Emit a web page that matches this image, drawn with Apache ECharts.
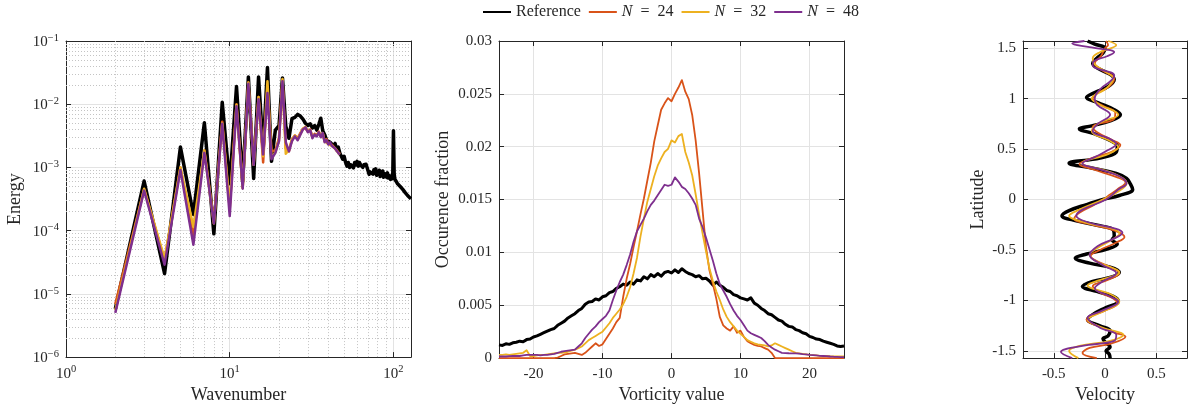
<!DOCTYPE html>
<html>
<head>
<meta charset="utf-8">
<script src="https://cdn.jsdelivr.net/npm/echarts@6/dist/echarts.min.js"></script>
<style>
  html, body { margin: 0; padding: 0; background: #fff; }
  #chart { width: 1188px; height: 409px; }
</style>
</head>
<body>
<div id="chart"></div>
<script>
// ---- energy spectrum (left) ----
const refEnergy = [
  5.8e-6, 6.1e-4, 2.1e-5, 2.1e-3, 1.8e-4, 5.1e-3, 8.9e-5, 1.07e-2, 5.5e-4, 1.9e-2,
  6.0e-4, 2.7e-2, 6.7e-4, 2.7e-2, 1.9e-3, 3.8e-2, 1.25e-3, 3.9e-3, 4.6e-3, 2.6e-2,
  4.5e-3, 2.9e-3, 5.9e-3, 6.2e-3, 6.9e-3, 6.5e-3, 5.8e-3, 5.0e-3, 4.6e-3, 4.9e-3,
  4.2e-3, 4.6e-3, 3.9e-3, 4.8e-3, 6.0e-3, 3.8e-3, 3.3e-3, 2.7e-3, 2.9e-3, 2.5e-3,
  2.6e-3, 2.2e-3, 2.4e-3, 1.9e-3, 2.1e-3, 1.7e-3, 1.8e-3, 1.35e-3, 1.5e-3, 1.2e-3,
  1.05e-3, 1.2e-3, 1.0e-3, 1.1e-3, 1.15e-3, 9.8e-4, 1.2e-3, 1.1e-3, 1.25e-3, 1.05e-3,
  1.2e-3, 1.1e-3, 1.15e-3, 1.0e-3, 1.1e-3, 1.05e-3, 1.12e-3, 1.0e-3, 9.5e-4, 7.8e-4,
  8.5e-4, 8.0e-4, 9.0e-4, 7.8e-4, 9.2e-4, 8.0e-4, 9.5e-4, 7.5e-4, 8.5e-4, 7.8e-4,
  9.0e-4, 7.2e-4, 8.2e-4, 7.5e-4, 8.8e-4, 7.0e-4, 8.0e-4, 7.2e-4, 7.8e-4, 7.0e-4,
  8.2e-4, 6.8e-4, 7.5e-4, 7.0e-4, 6.5e-4, 7.4e-4, 6.6e-4, 7.2e-4, 3.8e-3, 8.0e-4,
  6.5e-4, 6.8e-4, 6.0e-4, 6.3e-4, 5.5e-4, 5.8e-4, 5.2e-4, 5.6e-4, 5.0e-4, 5.3e-4,
  4.7e-4, 5.0e-4, 4.5e-4, 4.8e-4, 4.2e-4, 4.5e-4, 4.0e-4, 4.2e-4, 3.8e-4, 4.0e-4,
  3.6e-4, 3.7e-4, 3.4e-4, 3.5e-4, 3.3e-4, 3.4e-4, 3.2e-4
];
const n24Energy = [
  6.9e-6, 4.5e-4, 3.4e-5, 1.0e-3, 8.0e-5, 1.85e-3, 1.4e-4, 5.3e-3, 2.2e-4, 1.0e-2,
  4.8e-4, 2.2e-2, 1.15e-3, 1.3e-2, 1.2e-3, 1.9e-2, 1.8e-3, 1.85e-3, 2.9e-3, 2.4e-2,
  2.0e-3, 1.8e-3, 2.8e-3, 3.2e-3, 2.9e-3, 3.5e-3, 4.1e-3, 4.2e-3, 3.7e-3, 4.0e-3,
  3.0e-3, 3.4e-3, 3.2e-3, 3.7e-3, 3.1e-3, 3.4e-3, 2.6e-3, 2.8e-3, 2.4e-3, 2.5e-3,
  2.3e-3, 2.3e-3, 2.0e-3, 1.95e-3, 1.75e-3, 1.65e-3
];
const n32Energy = [
  5.5e-6, 4.6e-4, 3.6e-5, 1.0e-3, 1.15e-4, 1.85e-3, 1.3e-4, 5.0e-3, 2.5e-4, 9.8e-3,
  4.7e-4, 2.2e-2, 1.1e-3, 1.3e-2, 1.5e-3, 2.3e-2, 1.4e-3, 1.75e-3, 2.7e-3, 2.5e-2,
  1.65e-3, 1.9e-3, 2.7e-3, 3.2e-3, 2.8e-3, 3.4e-3, 4.1e-3, 4.4e-3, 3.7e-3, 3.9e-3,
  3.0e-3, 3.3e-3, 3.2e-3, 3.6e-3, 3.1e-3, 3.5e-3, 2.6e-3, 2.7e-3, 2.35e-3, 2.5e-3,
  2.2e-3, 2.3e-3, 2.0e-3, 1.9e-3, 1.7e-3, 1.6e-3
];
const n48Energy = [
  5.0e-6, 4.3e-4, 2.9e-5, 9.1e-4, 6.0e-5, 1.7e-3, 1.3e-4, 4.9e-3, 1.7e-4, 9.3e-3,
  4.6e-4, 2.1e-2, 1.1e-3, 1.2e-2, 1.6e-3, 1.5e-2, 1.35e-3, 1.7e-3, 2.6e-3, 2.3e-2,
  2.5e-3, 1.8e-3, 2.6e-3, 3.1e-3, 2.7e-3, 3.3e-3, 4.0e-3, 4.3e-3, 3.6e-3, 3.9e-3,
  2.9e-3, 3.3e-3, 3.1e-3, 3.6e-3, 3.0e-3, 3.5e-3, 2.5e-3, 2.7e-3, 2.3e-3, 2.5e-3,
  2.2e-3, 2.3e-3, 2.0e-3, 1.9e-3, 1.7e-3, 1.6e-3
];
// wavenumbers start at 2
const refK = refEnergy.map((_, i) => i + 2);
const runK = n24Energy.map((_, i) => i + 2);

// ---- vorticity histogram (middle), bins of 0.5 from -25 to 25 ----
const vortBins = [];
for (let i = 0; i <= 100; i++) vortBins.push(-25 + 0.5 * i);
const refHist = [
  0.00125,0.0012,0.00135,0.0013,0.00145,0.0015,0.0016,0.00155,0.00175,0.0018,
  0.002,0.0021,0.00225,0.0024,0.00255,0.0027,0.0028,0.0031,0.0033,0.0035,
  0.0038,0.004,0.0042,0.0045,0.0047,0.0051,0.0053,0.00535,0.0056,0.0055,
  0.0058,0.0059,0.0062,0.0063,0.0066,0.00675,0.007,0.0069,0.0072,0.007,
  0.0074,0.0073,0.0077,0.0075,0.0079,0.0077,0.008,0.00775,0.0081,0.0082,
  0.00805,
  0.00835,0.0081,0.00845,0.0082,0.008,0.0079,0.0077,0.0078,0.0075,0.00755,
  0.0073,0.0069,0.0072,0.0069,0.0067,0.0064,0.0063,0.006,0.0059,0.0057,
  0.0056,0.0055,0.0057,0.0052,0.005,0.0047,0.0045,0.0042,0.0041,0.00385,
  0.0036,0.0035,0.0032,0.003,0.00295,0.0027,0.0026,0.0024,0.0023,0.00205,
  0.00195,0.0018,0.00175,0.0016,0.0015,0.0014,0.0013,0.00115,0.0011,0.00115
];
const n24Hist = [
  0,0,0,0,0,0,0,0,0,0,
  0,0,0,0,0,0,0,0.00005,0.0002,0.00035,
  0.0004,0.00045,0.0005,0.0004,0.0003,0.0005,0.0008,0.0011,0.0014,0.00115,
  0.0013,0.0018,0.0023,0.0028,0.0034,0.0038,0.0058,0.0075,0.0089,0.0105,
  0.012,0.0136,0.0151,0.0168,0.0185,0.0205,0.022,0.0235,0.0241,0.0246,
  0.0243,
  0.025,0.0256,0.0263,0.0252,0.0245,0.023,0.0206,0.0175,0.014,0.0105,
  0.0083,0.007,0.0056,0.0039,0.0031,0.0028,0.0026,0.003,0.0024,0.0026,
  0.002,0.0016,0.0014,0.00125,0.00115,0.0011,0.00095,0.0008,0.0005,0,
  0,0,0,0,0,0,0,0,0,0,
  0,0,0,0,0,0,0,0,0,0
];
const n32Hist = [
  0.0003,0.0003,0.00035,0.0003,0.00035,0.0004,0.00045,0.0005,0.00075,0.0002,
  0.0002,0.00025,0.0003,0.0003,0.00035,0.0004,0.00045,0.0005,0.0005,0.00055,
  0.0006,0.0007,0.0008,0.00095,0.0011,0.0014,0.0017,0.0019,0.0021,0.0023,
  0.0025,0.0029,0.0033,0.0038,0.0042,0.0046,0.0051,0.0058,0.0067,0.008,
  0.0095,0.0115,0.0132,0.0148,0.016,0.0172,0.0182,0.0189,0.0195,0.0198,
  0.0206,
  0.0204,0.021,0.0212,0.0195,0.0185,0.0173,0.0155,0.0136,0.0118,0.0101,
  0.0085,0.0073,0.0063,0.0055,0.0046,0.0039,0.0034,0.003,0.0026,0.0023,
  0.002,0.0017,0.00155,0.0014,0.0013,0.00125,0.0012,0.0011,0.0012,0.0014,
  0.00125,0.0011,0.00095,0.0008,0.00065,0.0005,0.00045,0.0004,0.00035,0.0003,
  0.00028,0.00025,0.00022,0.0002,0.0002,0.00018,0.00017,0.00015,0.00015,0.00015
];
const n48Hist = [
  0.00015,0.00015,0.00015,0.00018,0.0002,0.0002,0.0002,0.00025,0.0003,0.0003,
  0.0003,0.0003,0.00025,0.0003,0.0003,0.00035,0.0004,0.0005,0.0006,0.00065,
  0.0007,0.00075,0.0008,0.0011,0.0014,0.0019,0.0023,0.0027,0.003,0.0034,
  0.0037,0.004,0.0045,0.0055,0.0064,0.0072,0.0079,0.0088,0.0098,0.011,
  0.012,0.0126,0.0132,0.0139,0.0145,0.0149,0.0154,0.0159,0.0164,0.0163,
  0.0164,
  0.0171,0.0167,0.0162,0.016,0.0156,0.0151,0.0145,0.0132,0.0124,0.0114,
  0.0103,0.0092,0.008,0.007,0.0064,0.0058,0.0051,0.0045,0.004,0.0036,
  0.0031,0.0026,0.00235,0.0022,0.00205,0.0019,0.0016,0.00125,0.001,0.0008,
  0.00065,0.0005,0.00048,0.00046,0.00045,0.00045,0.00042,0.00038,0.00035,0.0003,
  0.00028,0.00025,0.00022,0.0002,0.00018,0.00015,0.00013,0.00012,0.0001,0.0001
];

// ---- zonal velocity profile (right) ----
const refLat = [1.5708,1.54,1.50,1.45,1.40,1.35,1.30,1.24,1.19,1.12,1.06,1.01,0.96,0.89,0.84,0.78,0.73,0.70,0.65,0.58,0.53,0.47,0.41,0.36,0.31,0.26,0.21,0.15,0.10,0.04,0.00,-0.05,-0.11,-0.16,-0.21,-0.26,-0.30,-0.36,-0.40,-0.44,-0.49,-0.54,-0.58,-0.63,-0.67,-0.72,-0.77,-0.81,-0.86,-0.91,-0.96,-1.01,-1.07,-1.14,-1.19,-1.25,-1.30,-1.35,-1.38,-1.42,-1.46,-1.50,-1.53,-1.5708];
const refVel = [-0.17,-0.10,0.0,-0.02,-0.08,-0.12,-0.07,0.05,0.09,0.03,-0.10,-0.18,-0.07,0.09,0.15,0.05,-0.13,-0.25,-0.10,0.06,0.12,0.11,-0.05,-0.35,-0.12,0.11,0.21,0.25,0.27,0.14,-0.02,-0.18,-0.35,-0.42,-0.28,-0.05,0.08,0.09,0.07,0.12,0.02,-0.18,-0.29,-0.15,0.05,0.14,0.06,-0.12,-0.22,-0.08,0.08,0.13,0.01,-0.12,-0.17,-0.05,0.05,0.03,-0.02,0.01,0.05,0.01,0.04,0.05];
const n24Lat = [1.5708,1.53,1.50,1.42,1.35,1.28,1.20,1.12,1.05,1.00,0.93,0.86,0.80,0.72,0.67,0.59,0.54,0.47,0.42,0.35,0.30,0.22,0.17,0.10,0.05,0.00,-0.06,-0.13,-0.19,-0.25,-0.31,-0.37,-0.43,-0.50,-0.56,-0.60,-0.66,-0.73,-0.80,-0.86,-0.92,-0.98,-1.03,-1.10,-1.16,-1.19,-1.25,-1.32,-1.36,-1.43,-1.47,-1.52,-1.5708];
const n24Vel = [0.01,0.03,0.0,-0.04,-0.10,-0.03,0.09,0.04,-0.08,-0.12,-0.02,0.10,0.09,-0.12,-0.08,0.07,0.15,0.06,-0.10,-0.25,-0.12,0.12,0.20,0.12,0.05,-0.02,-0.12,-0.25,-0.30,-0.12,0.10,0.19,0.10,-0.05,-0.14,-0.10,0.03,0.14,0.02,-0.12,-0.05,0.08,0.12,0.0,-0.15,-0.18,-0.08,0.10,0.20,0.05,-0.15,-0.22,-0.08];
const n32Lat = [1.5708,1.53,1.46,1.40,1.34,1.27,1.20,1.10,1.00,0.94,0.84,0.76,0.68,0.58,0.52,0.45,0.36,0.26,0.16,0.08,0.00,-0.10,-0.16,-0.23,-0.29,-0.34,-0.39,-0.49,-0.55,-0.62,-0.72,-0.81,-0.85,-0.94,-1.01,-1.11,-1.19,-1.27,-1.34,-1.40,-1.45,-1.50,-1.5708];
const n32Vel = [0.03,0.11,-0.05,-0.12,-0.10,0.0,0.08,0.01,-0.13,-0.05,0.13,-0.05,-0.13,0.05,0.13,0.03,-0.22,0.08,0.21,0.13,-0.02,-0.25,-0.35,-0.18,0.08,0.14,0.08,-0.09,-0.15,-0.07,0.14,-0.09,-0.17,0.06,0.14,-0.02,-0.17,-0.02,0.18,0.05,-0.25,-0.35,-0.26];
const n48Lat = [1.5708,1.545,1.51,1.46,1.42,1.37,1.33,1.23,1.17,1.10,1.00,0.94,0.84,0.75,0.68,0.60,0.55,0.49,0.42,0.36,0.29,0.23,0.16,0.10,0.00,-0.10,-0.16,-0.23,-0.29,-0.33,-0.39,-0.46,-0.55,-0.65,-0.73,-0.81,-0.88,-0.96,-1.01,-1.11,-1.17,-1.27,-1.34,-1.40,-1.45,-1.51,-1.5708];
const n48Vel = [-0.20,-0.32,-0.15,0.09,0.02,-0.11,-0.12,0.09,0.05,-0.04,-0.10,-0.08,0.05,-0.07,-0.12,0.05,0.11,0.03,-0.10,-0.22,-0.02,0.14,0.21,0.13,0.01,-0.22,-0.28,-0.15,0.11,0.17,0.08,-0.07,-0.15,-0.02,0.11,-0.02,-0.10,0.05,0.13,-0.05,-0.17,-0.05,0.11,0.09,-0.22,-0.43,-0.32];

const seriesNames = ['Reference', 'N = 24', 'N = 32', 'N = 48'];
const colors = ['#000000', '#D95319', '#EDB120', '#7E2F8E'];

const FONT = "'Liberation Serif', 'DejaVu Serif', serif";
const INK = '#262626';
const GRID_CLR = '#e3e3e3';

const chart = echarts.init(document.getElementById('chart'), null, { renderer: 'canvas' });

function zip(a, b) { return a.map((v, i) => [v, b[i]]); }

function isPow10(v) {
  const e = Math.round(Math.log10(v));
  return Math.abs(v / Math.pow(10, e) - 1) < 1e-6;
}
function powLabel(v) {
  if (!isPow10(v)) return '';
  const e = Math.round(Math.log10(v));
  return '{b|10}{s|' + String(e).replace('-', '\u2212') + '}';
}
function halfStep(v) {
  return Math.abs(v * 2 - Math.round(v * 2)) < 1e-6;
}

const powRich = {
  b: { fontFamily: FONT, fontSize: 15, color: INK, lineHeight: 17, verticalAlign: 'bottom' },
  s: { fontFamily: FONT, fontSize: 10.5, color: INK, lineHeight: 10, verticalAlign: 'top' }
};

const labelBase = { fontFamily: FONT, fontSize: 15, color: INK };
const nameBase = { fontFamily: FONT, fontSize: 18, color: INK };
const lineBase = { show: true, onZero: false, lineStyle: { color: INK, width: 1 } };
const tickBase = { show: true, inside: true, length: 5, lineStyle: { color: INK } };

// main axis carries labels and grid; the partner axis closes the box
function mainAxis(grid, extra) {
  return Object.assign({
    gridIndex: grid,
    axisLine: lineBase,
    axisTick: tickBase,
    splitLine: { show: true, lineStyle: { color: GRID_CLR, width: 1 } },
    nameLocation: 'middle',
    nameTextStyle: nameBase
  }, extra);
}
function boxAxis(grid, pos, extra) {
  return Object.assign({
    gridIndex: grid,
    position: pos,
    axisLine: lineBase,
    axisTick: tickBase,
    axisLabel: { show: false },
    splitLine: { show: false }
  }, extra);
}

const leftX = { type: 'log', logBase: 10, min: 1, max: 128 };
const leftY = { type: 'log', logBase: 10, min: 1e-6, max: 0.1 };
const midX = { type: 'value', min: -25, max: 25, splitNumber: 5 };
const midY = { type: 'value', min: 0, max: 0.03, interval: 0.005 };
const rightX = { type: 'value', min: -0.8, max: 0.8, splitNumber: 3 };
const rightY = { type: 'value', min: -Math.PI / 2, max: Math.PI / 2, splitNumber: 6 };

const halfLabel = v => (halfStep(v) ? String(Math.round(v * 2) / 2) : '');

const xAxes = [
  mainAxis(0, Object.assign({}, leftX, {
    name: 'Wavenumber', nameGap: 24,
    axisLabel: Object.assign({}, labelBase, { formatter: powLabel, rich: powRich, margin: 7 })
  })),
  boxAxis(0, 'top', leftX),
  mainAxis(1, Object.assign({}, midX, {
    name: 'Vorticity value', nameGap: 24,
    axisLabel: Object.assign({}, labelBase, { margin: 8, showMinLabel: false, showMaxLabel: false,
      formatter: v => (Math.abs(v) === 25 ? '' : String(v)) })
  })),
  boxAxis(1, 'top', midX),
  mainAxis(2, Object.assign({}, rightX, {
    name: 'Velocity', nameGap: 24,
    axisLabel: Object.assign({}, labelBase, { margin: 8, showMinLabel: false, showMaxLabel: false, formatter: halfLabel })
  })),
  boxAxis(2, 'top', rightX)
];
const yAxes = [
  mainAxis(0, Object.assign({}, leftY, {
    name: 'Energy', nameGap: 42,
    axisLabel: Object.assign({}, labelBase, { formatter: powLabel, rich: powRich, margin: 7 })
  })),
  boxAxis(0, 'right', leftY),
  mainAxis(1, Object.assign({}, midY, {
    name: 'Occurence fraction', nameGap: 47,
    axisLabel: Object.assign({}, labelBase, { margin: 7 })
  })),
  boxAxis(1, 'right', midY),
  mainAxis(2, Object.assign({}, rightY, {
    name: 'Latitude', nameGap: 36,
    axisLabel: Object.assign({}, labelBase, { margin: 7, showMinLabel: false, showMaxLabel: false, formatter: halfLabel })
  })),
  boxAxis(2, 'right', rightY)
];

// dotted minor grid of the log-log panel: segments in data space
const minorLines = [];
[1, 10].forEach(d => {
  for (let m = 2; m <= 9; m++) minorLines.push({ coords: [[m * d, 1e-6], [m * d, 0.1]] });
});
[1e-6, 1e-5, 1e-4, 1e-3, 1e-2].forEach(d => {
  for (let m = 2; m <= 9; m++) minorLines.push({ coords: [[1, m * d], [128, m * d]] });
});

function lineSeries(idx, axis, data, width, extra) {
  return Object.assign({
    name: seriesNames[idx],
    type: 'line',
    xAxisIndex: axis, yAxisIndex: axis,
    data: data,
    showSymbol: false,
    symbol: 'none',
    clip: true,
    z: 3 + idx,
    color: colors[idx],
    lineStyle: { color: colors[idx], width: width, join: 'round' },
    emphasis: { disabled: true },
    animation: false
  }, extra || {});
}

const series = [
  {
    type: 'lines', coordinateSystem: 'cartesian2d', xAxisIndex: 0, yAxisIndex: 0,
    silent: true, z: 1, animation: false,
    lineStyle: { color: '#c4c4c4', width: 1, type: [1, 2], opacity: 1 },
    data: minorLines
  },
  lineSeries(0, 0, zip(refK, refEnergy), 3.5),
  lineSeries(1, 0, zip(runK, n24Energy), 2.5),
  lineSeries(2, 0, zip(runK, n32Energy), 2.5),
  lineSeries(3, 0, zip(runK, n48Energy), 2.5),

  lineSeries(0, 2, zip(vortBins, refHist), 3),
  lineSeries(1, 2, zip(vortBins, n24Hist), 1.8),
  lineSeries(2, 2, zip(vortBins, n32Hist), 1.8),
  lineSeries(3, 2, zip(vortBins, n48Hist), 1.8),

  lineSeries(0, 4, zip(refVel, refLat), 3.5, { smooth: 0.4 }),
  lineSeries(1, 4, zip(n24Vel, n24Lat), 1.8, { smooth: 0.4 }),
  lineSeries(2, 4, zip(n32Vel, n32Lat), 1.8, { smooth: 0.4 }),
  lineSeries(3, 4, zip(n48Vel, n48Lat), 1.8, { smooth: 0.4 })
];

const option = {
  backgroundColor: '#ffffff',
  animation: false,
  grid: [
    { left: 66, top: 41, width: 345, height: 321 },
    { left: 499, top: 41, width: 345, height: 321 },
    { left: 1023, top: 41, width: 164, height: 321 }
  ],
  legend: {
    data: seriesNames,
    left: 482, top: 4, padding: 0,
    itemWidth: 28, itemHeight: 14, itemGap: 7,
    itemStyle: { opacity: 0 },
    textStyle: {
      fontFamily: FONT, fontSize: 16, color: INK,
      rich: { i: { fontFamily: FONT, fontSize: 16, fontStyle: 'italic', color: INK } }
    },
    formatter: name => (name === 'Reference' ? name : '{i|N}\u2002=\u2002' + name.split('= ')[1]),
    selectedMode: false
  },
  xAxis: xAxes,
  yAxis: yAxes,
  series: series
};

chart.setOption(option);
window.addEventListener('resize', () => chart.resize());
</script>
</body>
</html>
